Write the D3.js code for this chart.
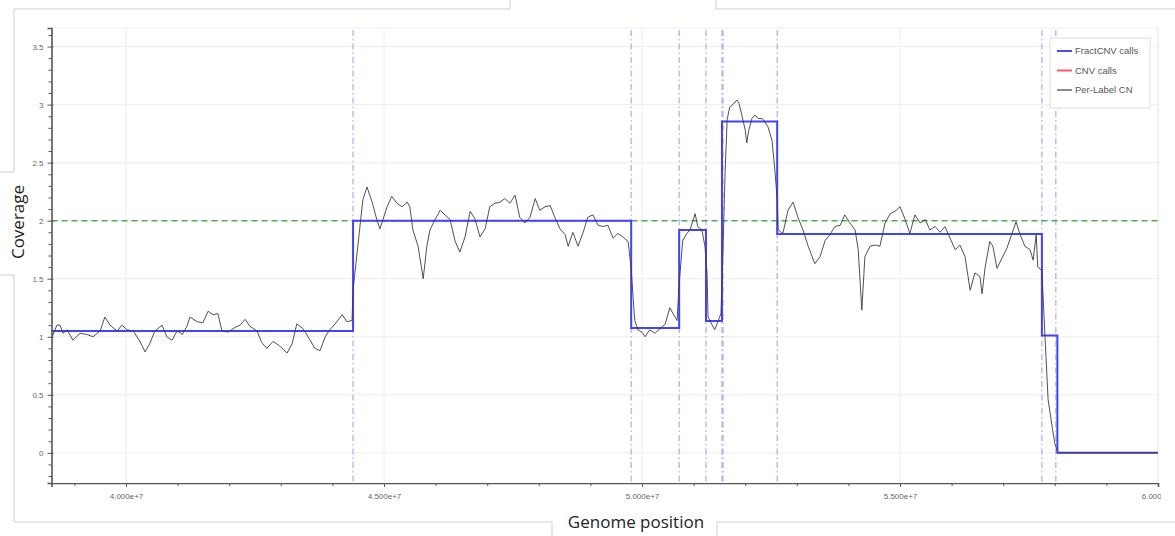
<!DOCTYPE html>
<html>
<head>
<meta charset="utf-8">
<script src="https://cdn.jsdelivr.net/npm/d3@7"></script>
<style>
  body { margin: 0; background: #fff; }
  text { font-family: "Liberation Sans", Arial, sans-serif; }
</style>
</head>
<body>
<div id="chart"></div>
<script>
/* global d3 */

// genome positions are in Mb, multiplied by 1e6 when drawn
const xDomain = [38.556, 60.0]
const yDomain = [-0.26, 3.66]

const xMajorTicks = [40, 45, 50, 55, 60]
const yMajorTicks = [0, 0.5, 1, 1.5, 2, 2.5, 3, 3.5]

const ploidy = 2

// FractCNV calls: segment start positions and copy number
const fractStarts = [38.556, 44.40, 49.79, 50.72, 51.24, 51.55, 52.62, 57.75, 58.05, 60.0]
const fractLevels = [1.05, 2.00, 1.075, 1.92, 1.135, 2.855, 1.885, 1.01, 0.0, 0.0]

// breakpoints (dash-dot verticals)
const breakpoints = [44.40, 49.79, 50.72, 51.24, 51.55, 51.57, 52.62, 57.75, 58.02]

// Per-Label CN
const cnPos = [
  38.57, 38.66, 38.72, 38.78, 38.86, 38.97, 39.11, 39.24, 39.36, 39.50,
  39.59, 39.69, 39.83, 39.92, 40.02, 40.14, 40.27, 40.37, 40.46, 40.56,
  40.70, 40.79, 40.89, 40.99, 41.09, 41.18, 41.24, 41.38, 41.49, 41.59,
  41.69, 41.78, 41.86, 41.98, 42.11, 42.21, 42.31, 42.40, 42.54, 42.63,
  42.73, 42.85, 42.98, 43.12, 43.22, 43.31, 43.43, 43.57, 43.66, 43.76,
  43.86, 43.95, 44.05, 44.19, 44.28, 44.38,
  44.40, 44.48, 44.59, 44.67, 44.77, 44.86, 44.92, 44.98, 45.06, 45.15,
  45.25, 45.35, 45.45, 45.50, 45.56, 45.66, 45.76, 45.83, 45.89, 45.99,
  46.09, 46.18, 46.28, 46.38, 46.47, 46.57, 46.67, 46.76, 46.86, 46.96,
  47.05, 47.15, 47.25, 47.34, 47.44, 47.54, 47.63, 47.73, 47.83, 47.93,
  48.02, 48.12, 48.22, 48.31, 48.41, 48.51, 48.57, 48.66, 48.76, 48.86,
  48.95, 49.05, 49.15, 49.24, 49.34, 49.44, 49.53, 49.63, 49.73,
  49.75, 49.79, 49.83, 49.86, 49.92, 50.00, 50.06, 50.15, 50.25, 50.35,
  50.45, 50.54, 50.60, 50.68, 50.72, 50.79, 50.87, 50.93, 51.03, 51.08,
  51.16, 51.22, 51.26, 51.28, 51.36, 51.41, 51.47, 51.53, 51.57, 51.61,
  51.65, 51.70, 51.76, 51.84, 51.88, 51.94, 52.00, 52.03, 52.07, 52.13,
  52.19, 52.25, 52.33, 52.38, 52.44, 52.52, 52.58, 52.62, 52.64,
  52.73, 52.83, 52.93, 53.02, 53.12, 53.22, 53.35, 53.45, 53.55, 53.64,
  53.74, 53.84, 53.93, 54.03, 54.13, 54.19, 54.26, 54.32, 54.42, 54.52,
  54.61, 54.71, 54.81, 54.90, 55.00, 55.10, 55.19, 55.29, 55.39, 55.49,
  55.58, 55.68, 55.78, 55.87, 55.97, 56.07, 56.16, 56.26, 56.36, 56.45,
  56.55, 56.59, 56.65, 56.74, 56.80, 56.88, 56.98, 57.07, 57.17, 57.25,
  57.32, 57.42, 57.52, 57.58, 57.64, 57.67, 57.75,
  57.81, 57.87, 57.95, 58.00, 58.06, 60.0
]
const cnVal = [
  1.00, 1.10, 1.10, 1.03, 1.06, 0.97, 1.03, 1.02, 1.00, 1.05,
  1.17, 1.10, 1.05, 1.10, 1.06, 1.05, 0.96, 0.87, 0.94, 1.05,
  1.10, 1.00, 0.97, 1.05, 1.02, 1.09, 1.17, 1.13, 1.12, 1.22,
  1.19, 1.20, 1.05, 1.04, 1.08, 1.10, 1.15, 1.09, 1.05, 0.95,
  0.90, 0.96, 0.92, 0.86, 0.94, 1.11, 1.07, 0.97, 0.90, 0.88,
  1.00, 1.06, 1.11, 1.19, 1.13, 1.14,
  1.40, 1.73, 2.18, 2.29, 2.16, 2.01, 1.93, 2.01, 2.12, 2.21,
  2.15, 2.12, 2.16, 2.12, 1.92, 1.78, 1.50, 1.78, 1.92, 2.01,
  2.09, 2.05, 2.01, 1.82, 1.73, 1.86, 2.08, 2.02, 1.86, 1.93,
  2.12, 2.15, 2.16, 2.19, 2.15, 2.22, 2.03, 1.98, 2.03, 2.19,
  2.09, 2.12, 2.13, 2.03, 1.93, 1.88, 1.78, 1.90, 1.78, 1.90,
  2.03, 2.05, 1.96, 1.95, 1.96, 1.85, 1.89, 1.86, 1.82,
  1.75, 1.59, 1.32, 1.14, 1.06, 1.04, 1.00, 1.06, 1.03, 1.07,
  1.11, 1.25, 1.20, 1.14, 1.46, 1.83, 1.89, 1.92, 2.06, 1.95,
  1.92, 1.78, 1.55, 1.17, 1.10, 1.06, 1.13, 1.20, 1.75, 2.41,
  2.87, 2.98, 3.00, 3.04, 3.01, 2.90, 2.78, 2.67, 2.78, 2.88,
  2.91, 2.88, 2.88, 2.85, 2.81, 2.69, 2.41, 2.18, 1.92,
  1.89, 2.09, 2.16, 2.03, 1.92, 1.78, 1.63, 1.69, 1.83, 1.88,
  1.95, 1.96, 2.05, 1.98, 1.92, 1.75, 1.23, 1.69, 1.78, 1.79,
  1.78, 1.98, 2.06, 2.08, 2.12, 2.01, 1.89, 2.05, 1.98, 2.01,
  1.92, 1.95, 1.90, 1.95, 1.85, 1.75, 1.79, 1.69, 1.40, 1.55,
  1.52, 1.37, 1.60, 1.82, 1.78, 1.59, 1.68, 1.76, 1.89, 1.99,
  1.89, 1.78, 1.75, 1.66, 1.88, 1.60, 1.57,
  1.00, 0.46, 0.22, 0.08, 0.00, 0.00
]

const legendNames = ['FractCNV calls', 'CNV calls', 'Per-Label CN']
const legendColors = ['#4a4aff', '#ff5a5a', '#8a8a8a']

// Our canvas
const width = 1175,
height = 536,
plotLeft = 51.5,
plotRight = 1158,
plotTop = 28,
plotBottom = 483

let svg = d3.select('#chart')
.append('svg')
.attr('width', width)
.attr('height', height)

const frame = '#cfcfcf'

// outer panel outline, broken where the title boxes sit
const frameLines = [
  [14, 9, 510, 9], [716, 9, 1175, 9],
  [510, 0, 510, 9], [716, 0, 716, 9],
  [14, 9, 14, 172], [0, 172, 14, 172], [0, 275, 14, 275], [14, 275, 14, 522],
  [14, 522, 552, 522], [717, 522, 1175, 522],
  [552, 522, 552, 536], [717, 522, 717, 536]
]
svg.selectAll('line.frame')
.data(frameLines)
.enter()
.append('line')
.attr('class', 'frame')
.attr('x1', d => d[0]).attr('y1', d => d[1])
.attr('x2', d => d[2]).attr('y2', d => d[3])
.attr('stroke', frame)
.attr('stroke-width', 1)

const xScale = d3.scaleLinear()
.domain(xDomain.map(d => d * 1e6))
.range([plotLeft, plotRight])

const yScale = d3.scaleLinear()
.domain(yDomain)
.range([plotBottom, plotTop])

// grid
let grid = svg.append('g')
grid.selectAll('line.gx')
.data(xMajorTicks.slice(0, -1))
.enter()
.append('line')
.attr('x1', d => xScale(d * 1e6)).attr('x2', d => xScale(d * 1e6))
.attr('y1', plotTop).attr('y2', plotBottom)
.attr('stroke', '#ececec')
grid.selectAll('line.gy')
.data(yMajorTicks)
.enter()
.append('line')
.attr('x1', plotLeft).attr('x2', plotRight)
.attr('y1', d => yScale(d)).attr('y2', d => yScale(d))
.attr('stroke', '#f1eaee')
grid.append('line')
.attr('x1', plotLeft).attr('x2', plotRight)
.attr('y1', plotTop).attr('y2', plotTop)
.attr('stroke', '#eeeeee')
grid.append('line')
.attr('x1', plotRight).attr('x2', plotRight)
.attr('y1', plotTop).attr('y2', plotBottom)
.attr('stroke', '#e4e4e4')

// breakpoints
svg.selectAll('line.bp')
.data(breakpoints)
.enter()
.append('line')
.attr('class', 'bp')
.attr('x1', d => xScale(d * 1e6)).attr('x2', d => xScale(d * 1e6))
.attr('y1', plotTop + 2).attr('y2', plotBottom)
.attr('stroke', '#a9a9ff')
.attr('stroke-width', 1.2)
.attr('stroke-dasharray', '6,3,1.5,3')

// expected ploidy
svg.append('line')
.attr('x1', plotLeft).attr('x2', plotRight)
.attr('y1', yScale(ploidy)).attr('y2', yScale(ploidy))
.attr('stroke', '#4caf50')
.attr('stroke-width', 1.6)
.attr('stroke-dasharray', '6,4')

// FractCNV calls
const stepLine = d3.line()
.x(d => xScale(d[0] * 1e6))
.y(d => yScale(d[1]))
.curve(d3.curveStepAfter)

svg.append('path')
.datum(fractStarts.map((p, i) => [p, fractLevels[i]]))
.attr('d', stepLine)
.attr('fill', 'none')
.attr('stroke', '#4343ff')
.attr('stroke-width', 2)

// Per-Label CN
const cnLine = d3.line()
.x(d => xScale(d[0] * 1e6))
.y(d => yScale(d[1]))

svg.append('path')
.datum(cnPos.map((p, i) => [p, cnVal[i]]))
.attr('d', cnLine)
.attr('fill', 'none')
.attr('stroke', '#3c3c3c')
.attr('stroke-width', 0.9)
.attr('stroke-linejoin', 'round')

// axes
svg.append('defs').append('clipPath')
.attr('id', 'clipx')
.append('rect')
.attr('x', 0).attr('y', 0).attr('width', 1161).attr('height', height)

const yAxis = d3.axisLeft(yScale)
.tickValues(yMajorTicks)
.tickSize(4)
.tickPadding(4)
.tickFormat(d3.format(''))

const yMinor = d3.axisLeft(yScale)
.tickValues(d3.range(-2, 37).map(d => d / 10).filter(d => Math.round(d * 10) % 5 !== 0))
.tickSize(3)
.tickFormat('')

const xAxis = d3.axisBottom(xScale)
.tickValues(xMajorTicks.map(d => d * 1e6))
.tickSize(4)
.tickPadding(6)
.tickFormat(d3.format('.3e'))

const xMinor = d3.axisBottom(xScale)
.tickValues(d3.range(39, 60).filter(d => d % 5 !== 0).map(d => d * 1e6))
.tickSize(3)
.tickFormat('')

let gy = svg.append('g')
.attr('transform', `translate(${plotLeft},0)`)
.call(yMinor)
gy.select('.domain').remove()

let gyMaj = svg.append('g')
.attr('transform', `translate(${plotLeft},0)`)
.call(yAxis)
gyMaj.selectAll('.tick line').attr('x1', 2)

let gx = svg.append('g')
.attr('transform', `translate(0,${plotBottom})`)
.call(xMinor)
gx.select('.domain').remove()

let gxMaj = svg.append('g')
.attr('clip-path', 'url(#clipx)')
.attr('transform', `translate(0,${plotBottom})`)
.call(xAxis)
gxMaj.selectAll('.tick line').attr('y1', -3)

svg.selectAll('.domain, .tick line')
.attr('stroke', '#555')
gyMaj.select('.domain').attr('stroke-width', 1.6)
gxMaj.select('.domain').attr('stroke-width', 1.6)
svg.selectAll('.tick text')
.attr('fill', '#666')
.style('font-size', '8px')

// legend
let legend = svg.append('g')
legend.append('rect')
.attr('x', 1050).attr('y', 38)
.attr('width', 100).attr('height', 70)
.attr('fill', '#fff')
.attr('stroke', '#dddddd')

let items = legend.selectAll('g.item')
.data(legendNames)
.enter()
.append('g')
.attr('transform', (d, i) => `translate(1057,${51 + i * 19.5})`)
items.append('line')
.attr('x1', 0).attr('x2', 15)
.attr('stroke', (d, i) => legendColors[i])
.attr('stroke-width', 2)
items.append('text')
.attr('x', 18)
.attr('dy', '0.35em')
.attr('fill', '#555')
.style('font-size', '9.5px')
.text(d => d)

// axis titles
svg.append('text')
.attr('transform', 'translate(24,222) rotate(-90)')
.attr('text-anchor', 'middle')
.style('font-family', '"Open Sans", sans-serif')
.style('font-size', '17px')
.attr('fill', '#222')
.text('Coverage')

svg.append('text')
.attr('x', 636)
.attr('y', 528)
.attr('text-anchor', 'middle')
.style('font-family', '"Open Sans", sans-serif')
.style('font-size', '17px')
.attr('fill', '#222')
.text('Genome position')
</script>
</body>
</html>
